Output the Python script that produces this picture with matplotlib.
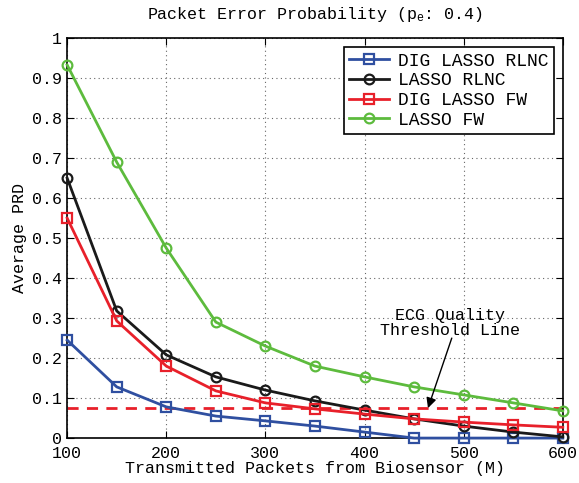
import numpy as np
import matplotlib
matplotlib.use("Agg")
import matplotlib.pyplot as plt

plt.rcParams['font.family'] = ['Liberation Mono', 'DejaVu Sans']
plt.rcParams['mathtext.fontset'] = 'custom'
plt.rcParams['mathtext.rm'] = 'Liberation Mono'
plt.rcParams['mathtext.it'] = 'Liberation Mono'

# transmitted packets M
packets = [100, 150, 200, 250, 300, 350, 400, 450, 500, 550, 600]

dig_lasso_rlnc = [0.245, 0.128, 0.078, 0.055, 0.043, 0.030, 0.015, 0.0, 0.0, 0.0, 0.0]
lasso_rlnc = [0.65, 0.318, 0.208, 0.153, 0.12, 0.093, 0.07, 0.048, 0.03, 0.015, 0.003]
dig_lasso_fw = [0.55, 0.293, 0.18, 0.118, 0.088, 0.073, 0.06, 0.048, 0.04, 0.033, 0.027]
lasso_fw = [0.933, 0.69, 0.475, 0.29, 0.23, 0.18, 0.153, 0.128, 0.108, 0.088, 0.068]

threshold = 0.075

fig = plt.figure(figsize=(5.79, 4.83), dpi=100)
ax = fig.add_axes([0.116, 0.093, 0.856, 0.828])

ax.plot(packets, [threshold] * len(packets), '--', color='#e8202a', lw=2, dashes=(4, 3))
style = dict(lw=2, ms=7, mfc='none', mew=1.6, clip_on=False, zorder=3)
ax.plot(packets, dig_lasso_rlnc, '-s', color='#2f4fa0', label='DIG LASSO RLNC', **style)
ax.plot(packets, lasso_rlnc, '-o', color='#1a1a1a', label='LASSO RLNC', **style)
ax.plot(packets, dig_lasso_fw, '-s', color='#e8202a', label='DIG LASSO FW', **style)
ax.plot(packets, lasso_fw, '-o', color='#5dbb3d', label='LASSO FW', **style)

ax.set_xlim(100, 600)
ax.set_ylim(0, 1)
ax.set_xticks(np.arange(100, 601, 100))
ax.set_yticks(np.arange(0, 1.01, 0.1))
ax.set_yticklabels(['0', '0.1', '0.2', '0.3', '0.4', '0.5', '0.6', '0.7', '0.8', '0.9', '1'])
ax.tick_params(direction='in', top=True, right=True, labelsize=12, length=5)
ax.tick_params(axis='x', pad=6)
ax.grid(True, linestyle=(0, (1, 3)), color='#666666', lw=0.8)
for s in ax.spines.values():
    s.set_linewidth(1.2)

ax.set_xlabel('Transmitted Packets from Biosensor (M)', fontsize=12, labelpad=0)
ax.set_ylabel('Average PRD', fontsize=12, labelpad=4)
ax.set_title(r'Packet Error Probability ($\mathregular{p_e}$: 0.4)', fontsize=12, pad=14)

ax.text(486, 0.2875, 'ECG Quality\nThreshold Line', ha='center', va='center',
        fontsize=12, linespacing=1.0)
ax.annotate('', xy=(464, threshold), xytext=(488, 0.25),
            arrowprops=dict(arrowstyle='-|>', color='black', lw=1, mutation_scale=15,
                            shrinkA=0, shrinkB=0))

leg = ax.legend(loc='upper right', fontsize=13, fancybox=False, framealpha=1,
                edgecolor='black', borderaxespad=0.5, handlelength=2.2,
                labelspacing=0.15, borderpad=0.3, handletextpad=0.5)
leg.get_frame().set_linewidth(1.2)

fig.savefig('out.png', dpi=100)
